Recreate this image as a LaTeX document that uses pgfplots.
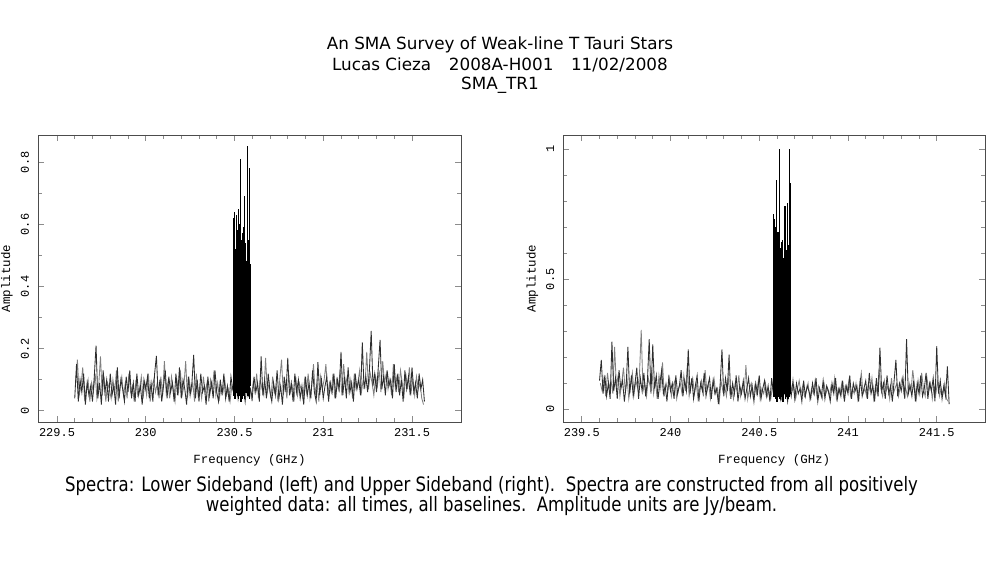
\documentclass[border=0pt]{standalone}
\usepackage{fontspec}
\setmainfont{DejaVu Sans}
\newfontfamily\pfont{Liberation Mono}
\usepackage{pgfplots}
\usepackage{pgfplotstable}
\pgfplotsset{compat=1.18}
\newcommand\tickfont{\pfont\fontsize{12}{12}\selectfont}
\newcommand\labfont{\pfont\fontsize{12.5}{13}\selectfont}

% Lower sideband: dark channels 229.600 + 0.01 i
\pgfplotstableread[row sep=\\]{y\\
0.04\\0.15\\0.03\\0.10\\0.06\\0.12\\0.02\\0.09\\0.05\\0.08\\
0.03\\0.11\\0.21\\0.04\\0.09\\0.02\\0.13\\0.06\\0.10\\0.03\\
0.12\\0.05\\0.08\\0.02\\0.14\\0.04\\0.10\\0.07\\0.03\\0.11\\
0.06\\0.13\\0.04\\0.09\\0.03\\0.12\\0.05\\0.08\\0.02\\0.10\\
0.07\\0.11\\0.04\\0.09\\0.03\\0.12\\0.177\\0.05\\0.10\\0.03\\
0.08\\0.13\\0.04\\0.11\\0.06\\0.09\\0.03\\0.12\\0.05\\0.14\\
0.04\\0.10\\0.07\\0.02\\0.11\\0.05\\0.09\\0.18\\0.04\\0.10\\
0.03\\0.12\\0.06\\0.08\\0.02\\0.11\\0.05\\0.09\\0.04\\0.13\\
0.06\\0.03\\0.10\\0.05\\0.12\\0.04\\0.08\\0.03\\0.11\\0.07\\
0.05\\0.09\\0.04\\0.10\\0.06\\0.08\\0.03\\0.09\\0.05\\0.07\\
0.04\\0.11\\0.06\\0.09\\0.03\\0.175\\0.05\\0.10\\0.04\\0.12\\
0.06\\0.03\\0.09\\0.05\\0.13\\0.04\\0.08\\0.02\\0.11\\0.06\\
0.17\\0.05\\0.09\\0.03\\0.12\\0.06\\0.10\\0.04\\0.08\\0.02\\
0.11\\0.05\\0.09\\0.04\\0.13\\0.06\\0.03\\0.157\\0.05\\0.10\\
0.04\\0.08\\0.11\\0.03\\0.09\\0.06\\0.12\\0.04\\0.10\\0.07\\
0.19\\0.05\\0.11\\0.04\\0.14\\0.06\\0.09\\0.03\\0.12\\0.07\\
0.10\\0.05\\0.22\\0.07\\0.11\\0.06\\0.13\\0.257\\0.08\\0.12\\
0.06\\0.14\\0.228\\0.07\\0.11\\0.05\\0.13\\0.08\\0.10\\0.04\\
0.15\\0.06\\0.12\\0.05\\0.10\\0.03\\0.13\\0.07\\0.11\\0.05\\
0.14\\0.06\\0.09\\0.04\\0.12\\0.07\\0.10\\0.03\\
}\lsbDark

% Lower sideband: grey channels 229.605 + 0.01 i
\pgfplotstableread[row sep=\\]{y\\
0.09\\0.165\\0.05\\0.08\\0.14\\0.04\\0.07\\0.10\\0.03\\0.09\\
0.06\\0.12\\0.04\\0.08\\0.175\\0.05\\0.11\\0.03\\0.09\\0.07\\
0.04\\0.10\\0.06\\0.13\\0.03\\0.08\\0.11\\0.05\\0.09\\0.04\\
0.12\\0.06\\0.08\\0.03\\0.10\\0.05\\0.07\\0.11\\0.04\\0.09\\
0.05\\0.12\\0.03\\0.08\\0.10\\0.06\\0.09\\0.04\\0.11\\0.05\\
0.16\\0.06\\0.09\\0.04\\0.11\\0.07\\0.03\\0.10\\0.06\\0.13\\
0.05\\0.08\\0.16\\0.04\\0.10\\0.06\\0.09\\0.03\\0.12\\0.05\\
0.08\\0.04\\0.11\\0.06\\0.09\\0.03\\0.10\\0.07\\0.13\\0.05\\
0.09\\0.04\\0.08\\0.06\\0.10\\0.05\\0.07\\0.03\\0.08\\0.06\\
0.09\\0.05\\0.07\\0.04\\0.08\\0.06\\0.10\\0.05\\0.08\\0.04\\
0.09\\0.06\\0.12\\0.04\\0.10\\0.07\\0.05\\0.17\\0.06\\0.09\\
0.04\\0.11\\0.06\\0.08\\0.03\\0.10\\0.165\\0.05\\0.09\\0.04\\
0.12\\0.06\\0.08\\0.03\\0.11\\0.05\\0.09\\0.07\\0.04\\0.10\\
0.06\\0.12\\0.04\\0.08\\0.15\\0.05\\0.09\\0.03\\0.11\\0.07\\
0.10\\0.15\\0.05\\0.09\\0.06\\0.12\\0.04\\0.10\\0.07\\0.13\\
0.05\\0.15\\0.08\\0.11\\0.06\\0.10\\0.04\\0.12\\0.07\\0.09\\
0.13\\0.06\\0.10\\0.08\\0.19\\0.07\\0.12\\0.09\\0.05\\0.11\\
0.08\\0.13\\0.06\\0.16\\0.09\\0.12\\0.07\\0.10\\0.05\\0.15\\
0.08\\0.11\\0.06\\0.13\\0.09\\0.05\\0.12\\0.07\\0.14\\0.06\\
0.10\\0.05\\0.11\\0.07\\0.09\\0.04\\0.02\\
}\lsbGrey

% Lower sideband: line channels 230.490 + 0.002 i
\pgfplotstableread[row sep=\\]{y\\
0.16\\0.56\\0.05\\0.62\\0.08\\0.64\\0.04\\0.52\\0.10\\0.63\\
0.06\\0.58\\0.05\\0.55\\0.09\\0.65\\0.04\\0.60\\0.07\\0.50\\
0.05\\0.62\\0.81\\0.03\\0.55\\0.08\\0.57\\0.04\\0.52\\0.10\\
0.59\\0.05\\0.69\\0.04\\0.50\\0.08\\0.54\\0.06\\0.48\\0.09\\
0.52\\0.85\\0.05\\0.50\\0.07\\0.55\\0.04\\0.78\\0.47\\0.08\\
}\lsbLine

% Upper sideband: dark channels 239.600 + 0.01 i
\pgfplotstableread[row sep=\\]{y\\
0.11\\0.19\\0.06\\0.13\\0.05\\0.10\\0.04\\0.26\\0.07\\0.12\\
0.04\\0.15\\0.08\\0.11\\0.03\\0.09\\0.24\\0.06\\0.13\\0.05\\
0.10\\0.16\\0.04\\0.12\\0.07\\0.14\\0.05\\0.11\\0.27\\0.06\\
0.25\\0.08\\0.13\\0.04\\0.10\\0.15\\0.06\\0.09\\0.03\\0.12\\
0.07\\0.10\\0.04\\0.13\\0.06\\0.09\\0.15\\0.05\\0.11\\0.07\\
0.23\\0.06\\0.12\\0.04\\0.09\\0.13\\0.03\\0.10\\0.07\\0.14\\
0.05\\0.09\\0.12\\0.04\\0.11\\0.06\\0.08\\0.02\\0.10\\0.23\\
0.05\\0.12\\0.07\\0.21\\0.04\\0.10\\0.06\\0.13\\0.03\\0.09\\
0.06\\0.11\\0.04\\0.08\\0.12\\0.05\\0.09\\0.03\\0.10\\0.06\\
0.13\\0.04\\0.08\\0.11\\0.05\\0.09\\0.03\\0.12\\0.06\\0.08\\
0.05\\0.09\\0.04\\0.10\\0.06\\0.08\\0.03\\0.09\\0.05\\0.11\\
0.04\\0.10\\0.06\\0.08\\0.03\\0.11\\0.05\\0.09\\0.07\\0.04\\
0.10\\0.06\\0.12\\0.03\\0.08\\0.05\\0.11\\0.04\\0.09\\0.07\\
0.03\\0.10\\0.06\\0.12\\0.04\\0.08\\0.05\\0.11\\0.03\\0.09\\
0.06\\0.13\\0.04\\0.10\\0.07\\0.09\\0.03\\0.12\\0.05\\0.08\\
0.11\\0.04\\0.14\\0.06\\0.09\\0.03\\0.12\\0.05\\0.237\\0.07\\
0.10\\0.04\\0.13\\0.06\\0.09\\0.03\\0.11\\0.19\\0.05\\0.10\\
0.07\\0.12\\0.04\\0.27\\0.06\\0.09\\0.05\\0.11\\0.03\\0.10\\
0.06\\0.13\\0.05\\0.08\\0.14\\0.04\\0.10\\0.07\\0.12\\0.03\\
0.243\\0.06\\0.11\\0.04\\0.09\\0.05\\0.165\\0.02\\
}\usbDark

% Upper sideband: grey channels 239.605 + 0.01 i
\pgfplotstableread[row sep=\\]{y\\
0.10\\0.07\\0.12\\0.05\\0.14\\0.08\\0.11\\0.06\\0.24\\0.09\\
0.13\\0.05\\0.10\\0.16\\0.07\\0.12\\0.04\\0.09\\0.14\\0.06\\
0.11\\0.08\\0.13\\0.305\\0.07\\0.10\\0.05\\0.12\\0.09\\0.15\\
0.06\\0.11\\0.04\\0.13\\0.08\\0.18\\0.05\\0.10\\0.07\\0.12\\
0.05\\0.09\\0.11\\0.04\\0.08\\0.10\\0.06\\0.13\\0.07\\0.17\\
0.05\\0.09\\0.12\\0.06\\0.10\\0.04\\0.08\\0.11\\0.05\\0.15\\
0.07\\0.10\\0.04\\0.09\\0.12\\0.06\\0.08\\0.03\\0.11\\0.07\\
0.09\\0.05\\0.12\\0.06\\0.08\\0.04\\0.10\\0.07\\0.13\\0.05\\
0.09\\0.06\\0.17\\0.04\\0.08\\0.10\\0.05\\0.09\\0.06\\0.11\\
0.04\\0.08\\0.06\\0.10\\0.05\\0.07\\0.04\\0.09\\0.06\\0.08\\
0.05\\0.07\\0.04\\0.09\\0.06\\0.08\\0.05\\0.10\\0.07\\0.09\\
0.04\\0.08\\0.11\\0.06\\0.09\\0.05\\0.07\\0.10\\0.04\\0.08\\
0.06\\0.11\\0.05\\0.09\\0.07\\0.04\\0.10\\0.06\\0.08\\0.05\\
0.09\\0.07\\0.12\\0.04\\0.08\\0.06\\0.10\\0.05\\0.09\\0.07\\
0.11\\0.05\\0.08\\0.06\\0.10\\0.04\\0.09\\0.14\\0.06\\0.08\\
0.05\\0.10\\0.07\\0.12\\0.04\\0.09\\0.06\\0.15\\0.08\\0.05\\
0.11\\0.07\\0.09\\0.04\\0.12\\0.06\\0.08\\0.10\\0.05\\0.09\\
0.12\\0.06\\0.08\\0.05\\0.10\\0.07\\0.15\\0.09\\0.04\\0.11\\
0.06\\0.14\\0.08\\0.05\\0.12\\0.07\\0.10\\0.04\\0.09\\0.06\\
0.11\\0.05\\0.08\\0.06\\0.10\\0.04\\0.03\\
}\usbGrey

% Upper sideband: line channels 240.580 + 0.002 i
\pgfplotstableread[row sep=\\]{y\\
0.75\\0.05\\0.73\\0.08\\0.70\\0.04\\0.66\\0.06\\0.88\\0.03\\
0.62\\0.09\\0.68\\0.05\\0.60\\0.07\\0.57\\1.00\\0.04\\0.62\\
0.08\\0.55\\0.05\\0.64\\0.07\\0.65\\0.03\\0.52\\0.09\\0.58\\
0.06\\0.60\\0.78\\0.04\\0.56\\0.08\\0.61\\0.05\\0.66\\0.79\\
0.04\\0.58\\0.09\\0.63\\0.05\\1.00\\0.07\\0.87\\0.45\\0.06\\
}\usbLine

\pgfplotsset{
  spec/.style={
    scale only axis, anchor=south west, height=287bp,
    axis line style={black!70, line width=0.8bp},
    every tick/.style={black!45, line width=0.7bp},
    major tick length=6bp, minor tick length=4bp,
    tick align=inside,
    /pgf/number format/assume math mode=true,
    scaled ticks=false,
    xticklabel style={font=\tickfont, anchor=center, yshift=-11bp},
    yticklabel style={font=\tickfont, anchor=center, xshift=-13bp, rotate=90},
    xlabel={Frequency (GHz)}, ylabel={Amplitude},
    every axis x label/.style={font=\labfont, at={(rel axis cs:0.5,0)}, anchor=center, yshift=-38bp},
    every axis y label/.style={font=\labfont, at={(rel axis cs:0,0.5)}, anchor=center, xshift=-31bp, rotate=90},
    minor x tick num=4,
    grey/.style={sharp plot, black!50, line width=0.85bp, mark=none},
    dark/.style={sharp plot, black!82, line width=0.85bp, mark=none},
    peak/.style={const plot, black, line width=0.8bp, mark=none},
  }
}

\begin{document}
\begin{tikzpicture}
\useasboundingbox (0,0) rectangle (987bp,567bp);
\fill[white] (0,0) rectangle (987bp,567bp);

\node[anchor=base, font=\fontsize{16.85}{20}\selectfont] at (500bp,517bp) {An SMA Survey of Weak-line T Tauri Stars};
\node[anchor=base, font=\fontsize{16.85}{20}\selectfont] at (500bp,496.5bp) {Lucas Cieza\hspace{1.05em}2008A-H001\hspace{1.05em}11/02/2008};
\node[anchor=base, font=\fontsize{16.85}{20}\selectfont] at (500bp,477bp) {SMA\_TR1};

\node[anchor=base, yscale=1.2, transform shape, font=\fontsize{16.6}{20}\selectfont] at (491.5bp,75bp) {Spectra: Lower Sideband (left) and Upper Sideband (right).\ \ Spectra are constructed from all positively};
\node[anchor=base, yscale=1.2, transform shape, font=\fontsize{16.6}{20}\selectfont] at (491.5bp,55bp) {weighted data: all times, all baselines.\ \ Amplitude units are Jy/beam.};

\begin{axis}[spec, at={(38bp,145bp)}, width=423bp,
  xmin=229.393, xmax=231.776, ymin=-0.036, ymax=0.888,
  xtick={229.5,230,230.5,231,231.5},
  ytick={0,0.2,0.4,0.6,0.8}, minor y tick num=1]
  \addplot[grey] table[x expr={229.605+0.01*\coordindex}, y=y] {\lsbGrey};
  \addplot[dark] table[x expr={229.600+0.01*\coordindex}, y=y] {\lsbDark};
  \addplot[peak] table[x expr={230.490+0.002*\coordindex}, y=y] {\lsbLine};
\end{axis}

\begin{axis}[spec, at={(563.3bp,145bp)}, width=421.7bp,
  xmin=239.396, xmax=241.772, ymin=-0.049, ymax=1.055,
  xtick={239.5,240,240.5,241,241.5},
  ytick={0,0.5,1}, minor y tick num=4]
  \addplot[grey] table[x expr={239.605+0.01*\coordindex}, y=y] {\usbGrey};
  \addplot[dark] table[x expr={239.600+0.01*\coordindex}, y=y] {\usbDark};
  \addplot[peak] table[x expr={240.580+0.002*\coordindex}, y=y] {\usbLine};
\end{axis}
\end{tikzpicture}
\end{document}
